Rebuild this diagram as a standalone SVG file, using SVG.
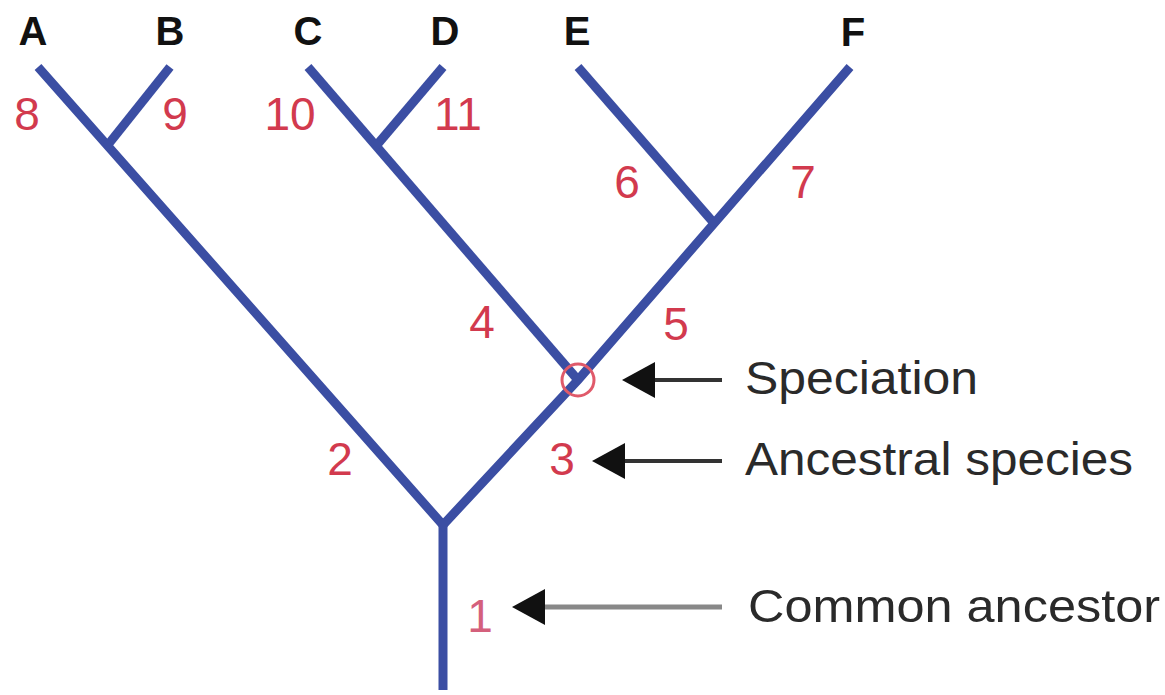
<svg xmlns="http://www.w3.org/2000/svg" width="1165" height="695" viewBox="0 0 1165 695">
<style>
.br{fill:none;stroke:#3b4ea3;stroke-width:9;stroke-linecap:butt;stroke-linejoin:miter}
.tip{font-family:"Liberation Sans",Arial,sans-serif;font-size:40px;font-weight:bold;fill:#111;text-anchor:middle}
.num{font-family:"Liberation Sans",Arial,sans-serif;font-size:46px;fill:#d23a4e;text-anchor:middle}
.lbl{font-family:"Liberation Sans",Arial,sans-serif;font-size:46px;fill:#2a2a2a}
.arr{stroke:#333;stroke-width:4}
.head{fill:#111}
</style>
<rect width="1165" height="695" fill="#fff"/>
<g id="connectors">
<path class="br" d="M443,690 V525"/>
<path class="br" d="M38,67 L443,525 L578,380 L850,67"/>
<path class="br" d="M107,146 L170,67"/>
<path class="br" d="M578,380 L308,67"/>
<path class="br" d="M376,146 L443,67"/>
<path class="br" d="M578,67 L713,222"/>
<line class="arr" x1="652" y1="380" x2="722" y2="380"/>
<polygon class="head" points="622,380 655,362 655,398"/>
<line class="arr" x1="622" y1="461" x2="722" y2="461"/>
<polygon class="head" points="592,461 625,443 625,479"/>
<line x1="542" y1="607" x2="722" y2="607" stroke="#888" stroke-width="5"/>
<polygon class="head" points="512,607 545,589 545,625"/>
</g>
<g id="node-A"><text class="tip" x="33" y="45">A</text><text class="num" x="27" y="130">8</text></g>
<g id="node-B"><text class="tip" x="170" y="45">B</text><text class="num" x="175" y="130">9</text></g>
<g id="node-C"><text class="tip" x="308" y="45">C</text><text class="num" x="290" y="130">10</text></g>
<g id="node-D"><text class="tip" x="445" y="45">D</text><text class="num" x="458" y="130">11</text></g>
<g id="node-E"><text class="tip" x="577" y="45">E</text><text class="num" x="627" y="198">6</text></g>
<g id="node-F"><text class="tip" x="853" y="46">F</text><text class="num" x="803" y="198">7</text></g>
<g id="branch-4"><text class="num" x="482" y="338">4</text></g>
<g id="branch-5"><text class="num" x="676" y="340">5</text></g>
<g id="branch-2"><text class="num" x="340" y="475">2</text></g>
<g id="branch-3"><text class="num" x="562" y="475">3</text></g>
<g id="branch-1"><text class="num" x="480" y="632" style="fill:#d4607c">1</text></g>
<g id="speciation-node"><circle cx="578" cy="380" r="16" fill="none" stroke="#e05a6a" stroke-width="3"/></g>
<g id="label-speciation"><text class="lbl" x="745" y="394" textLength="233" lengthAdjust="spacingAndGlyphs">Speciation</text></g>
<g id="label-ancestral"><text class="lbl" x="745" y="475" textLength="388" lengthAdjust="spacingAndGlyphs">Ancestral species</text></g>
<g id="label-common"><text class="lbl" x="748" y="622" textLength="412" lengthAdjust="spacingAndGlyphs">Common ancestor</text></g>
</svg>
